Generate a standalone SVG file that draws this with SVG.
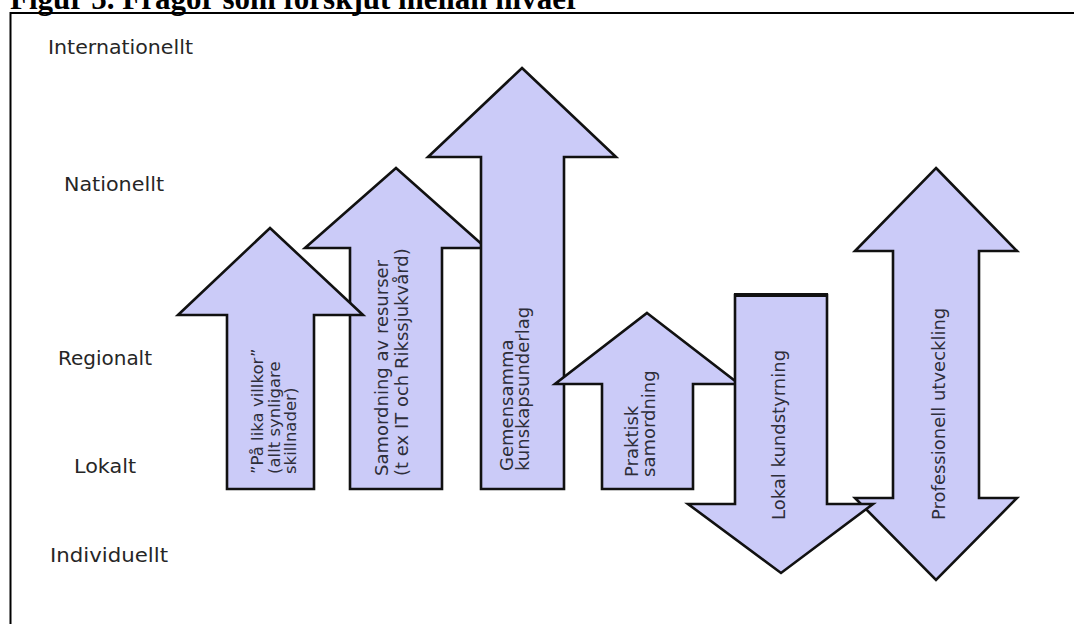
<svg xmlns="http://www.w3.org/2000/svg" width="1074" height="624" viewBox="0 0 1074 624">
<style>
.arrow{fill:#cbcbf8;stroke:#111;stroke-width:2.6;stroke-linejoin:miter}
.lbl{font-family:"DejaVu Sans",Verdana,sans-serif;font-size:20px;fill:#262626}
.atxt{font-family:"DejaVu Sans",Verdana,sans-serif;font-size:18px;fill:#2e2e3a}
.title{font-family:"Liberation Serif","Times New Roman",serif;font-weight:bold;font-size:31px;fill:#000}
.frame{stroke:#000;stroke-width:2;fill:none}
</style>
<rect width="1074" height="624" fill="#fff"/>
<text class="title" x="10" y="8.5">Figur 5. Frågor som förskjut mellan nivåer</text>
<path class="frame" d="M10.5,624 L10.5,13 L1074,13"/>

<g id="levels">
<text class="lbl" x="48" y="54" textLength="145" lengthAdjust="spacingAndGlyphs">Internationellt</text>
<text class="lbl" x="64" y="191" textLength="100" lengthAdjust="spacingAndGlyphs">Nationellt</text>
<text class="lbl" x="58" y="365" textLength="94" lengthAdjust="spacingAndGlyphs">Regionalt</text>
<text class="lbl" x="74" y="473" textLength="62" lengthAdjust="spacingAndGlyphs">Lokalt</text>
<text class="lbl" x="50" y="562" textLength="118" lengthAdjust="spacingAndGlyphs">Individuellt</text>
</g>

<g id="arrow-samordning">
<path class="arrow" d="M396,168 L486,248 L442,248 L442,489 L350,489 L350,248 L305,248 Z"/>
<text class="atxt" transform="translate(388,476) rotate(-90)"><tspan x="0" y="0">Samordning av resurser</tspan><tspan x="0" y="20">(t ex IT och Rikssjukvård)</tspan></text>
</g>

<g id="arrow-pa-lika-villkor">
<path class="arrow" d="M270,228 L363,315 L314,315 L314,489 L227,489 L227,315 L178,315 Z"/>
<text class="atxt" style="font-size:16.5px" transform="translate(263,474) rotate(-90)"><tspan x="0" y="0">”På lika villkor”</tspan><tspan x="0" y="16.5">(allt synligare</tspan><tspan x="0" y="33">skillnader)</tspan></text>
</g>

<g id="arrow-gemensamma">
<path class="arrow" d="M522,68 L616,157 L564,157 L564,489 L481,489 L481,157 L428,157 Z"/>
<text class="atxt" transform="translate(513,471) rotate(-90)"><tspan x="0" y="0">Gemensamma</tspan><tspan x="0" y="15.5">kunskapsunderlag</tspan></text>
</g>

<g id="arrow-praktisk">
<path class="arrow" d="M647,313 L739,384 L693,384 L693,489 L602,489 L602,384 L555,384 Z"/>
<text class="atxt" transform="translate(638,477) rotate(-90)"><tspan x="0" y="0">Praktisk</tspan><tspan x="0" y="17">samordning</tspan></text>
</g>

<g id="arrow-professionell">
<path class="arrow" d="M936,168 L1017,251 L979,251 L979,498 L1017,498 L936,580 L855,498 L893,498 L893,251 L855,251 Z"/>
<text class="atxt" transform="translate(945,520) rotate(-90)">Professionell utveckling</text>
</g>

<g id="arrow-lokal-kundstyrning">
<path class="arrow" d="M735,295 L827,295 L827,504 L873,504 L781,573 L688,504 L735,504 Z"/>
<line x1="734" y1="295" x2="828" y2="295" stroke="#111" stroke-width="4"/>
<text class="atxt" transform="translate(785,520) rotate(-90)">Lokal kundstyrning</text>
</g>

<g id="connectors"></g>
</svg>
